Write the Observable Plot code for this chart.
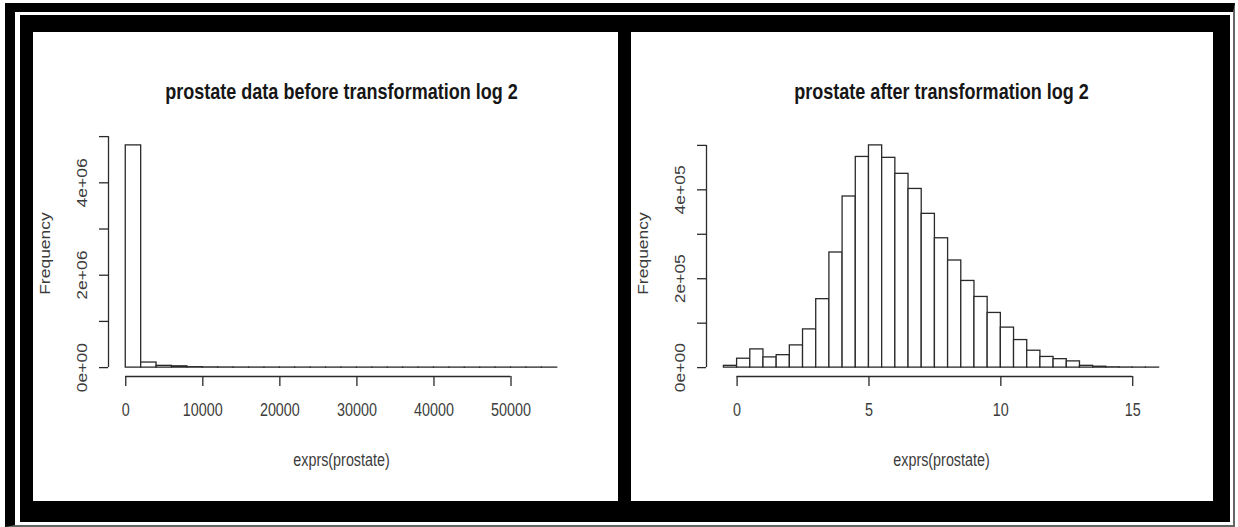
<!DOCTYPE html>
<html><head><meta charset="utf-8">
<script src="https://cdn.jsdelivr.net/npm/d3@7"></script>
<script src="https://cdn.jsdelivr.net/npm/@observablehq/plot@0.6"></script>
<style>
html,body{margin:0;padding:0;background:#fff}
body{width:1238px;height:527px;position:relative;overflow:hidden}
#outer{position:absolute;left:5px;top:3px;width:1230px;height:524px;box-sizing:border-box;border-top:9px solid #000;border-left:10px solid #000;border-right:2px solid #666;border-bottom:2px solid #666;background:#fff}
#inner{position:absolute;left:20px;top:15px;width:1210px;height:507px;background:#000}
.panel{position:absolute;top:32px;height:469px;background:#fff}
#p1{left:33px;width:585px}
#p2{left:631px;width:582px}
</style>
</head><body>
<div id="outer"></div>
<div id="inner"></div>
<div class="panel" id="p1"></div>
<div class="panel" id="p2"></div>
<script>
// ---- left histogram: raw expression values ----
const leftTitle = "prostate data before transformation log 2";
const leftBreaks = [0,2000,4000,6000,8000,10000,12000,14000,16000,18000,20000,22000,24000,26000,28000,30000,32000,34000,36000,38000,40000,42000,44000,46000,48000,50000,52000,54000,56000];
const leftCounts = [4810000,110000,38000,28000,9000,4000,2500,1500,1000,700,500,400,300,250,200,150,120,100,80,60,50,40,30,25,20,15,10,5];
const leftXTicks = [0,10000,20000,30000,40000,50000];
const leftYTicks = [0,1e6,2e6,3e6,4e6,5e6];
const leftYLabels = [0,2e6,4e6];
const leftYLabelText = ["0e+00","2e+06","4e+06"];

// ---- right histogram: log2 values ----
const rightTitle = "prostate after transformation log 2";
const rightBreaks = [-0.5,0,0.5,1,1.5,2,2.5,3,3.5,4,4.5,5,5.5,6,6.5,7,7.5,8,8.5,9,9.5,10,10.5,11,11.5,12,12.5,13,13.5,14,14.5,15,15.5,16];
const rightCounts = [4000,20000,41000,23000,28000,50000,86000,154000,259000,385000,474000,500000,472000,436000,402000,346000,291000,241000,195000,159000,123000,90000,62000,38000,24000,19000,14000,4000,2000,600,200,50,10];
const rightXTicks = [0,5,10,15];
const rightYTicks = [0,1e5,2e5,3e5,4e5,5e5];
const rightYLabels = [0,2e5,4e5];
const rightYLabelText = ["0e+00","2e+05","4e+05"];

const xLabel = "exprs(prostate)";
const yLabel = "Frequency";

const FONT = "'Liberation Sans',Arial,sans-serif";
const INK = "#2a2a2a";
const TXT = "#3c3c3c";

function hist({breaks, counts, xTicks, yTicks, yLabels, yLabelText, title, width, marginRight}) {
  const data = counts.map((c, i) => ({x1: breaks[i], x2: breaks[i + 1], y: c}));
  const M = d3.max(counts);
  const lo = breaks[0], hi = breaks[breaks.length - 1];
  const pad = 0.04 * (hi - lo);
  const xDomain = [lo - pad, hi + pad];
  const yDomain = [-0.04 * M, 1.04 * M];
  const labelMap = new Map(yLabels.map((v, i) => [v, yLabelText[i]]));
  return Plot.plot({
    width, height: 469,
    marginLeft: 75, marginRight, marginTop: 104, marginBottom: 125,
    x: {domain: xDomain},
    y: {domain: yDomain},
    style: {fontFamily: FONT, fontSize: "17.5px", color: INK, background: "transparent", overflow: "visible"},
    marks: [
      Plot.rectY(data, {x1: "x1", x2: "x2", y1: 0, y2: "y", fill: "white", stroke: INK, strokeWidth: 1.3}),
      Plot.ruleY([yDomain[0]], {x1: xTicks[0], x2: xTicks[xTicks.length - 1], stroke: INK, strokeWidth: 1.3}),
      Plot.ruleX([xDomain[0]], {y1: yTicks[0], y2: yTicks[yTicks.length - 1], stroke: INK, strokeWidth: 1.3}),
      Plot.axisX({ticks: xTicks, tickSize: 10, tickPadding: 17, tickFormat: d => String(d), label: null, fontSize: 17.5, strokeWidth: 1.3, fill: TXT}),
      Plot.axisY({ticks: yTicks, tickSize: 9, tickFormat: () => "", label: null, strokeWidth: 1.3}),
      Plot.text(yLabels, {x: xDomain[0], y: d => d, text: d => labelMap.get(d), rotate: -90, dx: -26, fontSize: 17.5, fill: TXT, textAnchor: "middle", lineAnchor: "middle"}),
      Plot.text([yLabel], {frameAnchor: "left", text: d => d, rotate: -90, dx: -63, dy: -3, fontSize: 17.5, fill: TXT, textAnchor: "middle", lineAnchor: "middle"}),
      Plot.text([xLabel], {frameAnchor: "bottom", text: d => d, dy: 84, fontSize: 17.5, fill: TXT, textAnchor: "middle", lineAnchor: "middle"}),
      Plot.text([title], {frameAnchor: "top", text: d => d, dy: -45, fontSize: 22, fontWeight: "bold", fill: "#161616", textAnchor: "middle", lineAnchor: "middle"})
    ]
  });
}

// emulate the horizontally squeezed lettering of the reference picture:
// upright text is narrowed along its length, rotated text is thinned across it
function narrow(svg, sx) {
  svg.querySelectorAll("text").forEach(t => {
    let tr = t.getAttribute("transform") || "";
    const x = t.getAttribute("x");
    const y = t.getAttribute("y");
    let pre = "";
    if (x != null && !/em$/.test(x)) { pre += ` translate(${+x},0)`; t.setAttribute("x", 0); }
    if (y != null && !/em$/.test(y)) { pre += ` translate(0,${+y})`; t.setAttribute("y", 0); }
    const rotated = /rotate/.test(tr);
    t.setAttribute("transform", `${tr}${pre} ${rotated ? `scale(1,${sx})` : `scale(${sx},1)`}`);
  });
}

const left = hist({
  breaks: leftBreaks, counts: leftCounts, xTicks: leftXTicks, yTicks: leftYTicks,
  yLabels: leftYLabels, yLabelText: leftYLabelText, title: leftTitle, width: 585, marginRight: 44
});
const right = hist({
  breaks: rightBreaks, counts: rightCounts, xTicks: rightXTicks, yTicks: rightYTicks,
  yLabels: rightYLabels, yLabelText: rightYLabelText, title: rightTitle, width: 582, marginRight: 37
});
narrow(left, 0.82);
narrow(right, 0.82);
document.getElementById("p1").append(left);
document.getElementById("p2").append(right);
</script>
</body></html>
